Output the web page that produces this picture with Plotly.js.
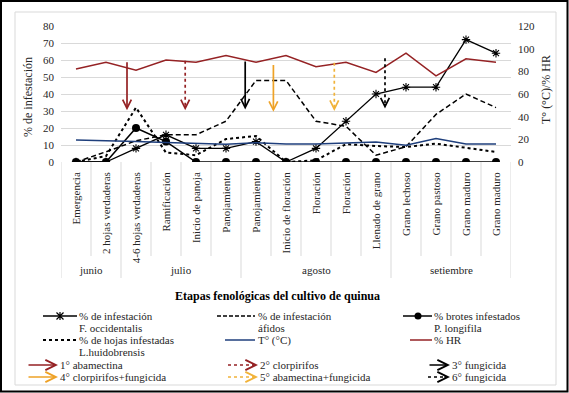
<!DOCTYPE html>
<html><head><meta charset="utf-8">
<script src="https://cdn.plot.ly/plotly-3.0.1.min.js"></script>
<style>html,body{margin:0;padding:0;background:#fff}#chart{width:569px;height:393px}</style>
</head><body><div id="chart"></div>
<script>
// ---------- data ----------
const etapas = ["Emergencia","2 hojas verdaderas","4-6 hojas verdaderas","Ramificación","Inicio de panoja","Panojamiento","Panojamiento","Inicio de floración","Floración","Floración","Llenado de grano","Grano lechoso","Grano pastoso","Grano maduro","Grano maduro"];
const meses = ["junio","julio","agosto","setiembre"];
const mesInicio = [0, 2, 6, 11];
const mesFin = [1, 5, 10, 14];

const fOccidentalis = [0, 0, 8, 16, 8, 8, 12, 0, 8, 24, 40, 44, 44, 72, 64];
const afidos = [0, 6, 12.5, 16, 16, 24, 48, 48, 24, 21, 4, 9, 28, 40, 32];
const brotesPLongifila = [0, 0, 20, 12, 0, 0, 0, 0, 0, 0, 0, 0, 0, 0, 0];
const hojasLHuidobrensis = [0, 3.5, 32, 5.5, 4, 13.5, 15.3, 0, 1, 10.5, 9.4, 8.8, 10.8, 8.3, 5.9];
const temperatura = [19.5, 19, 18, 17.2, 16.5, 15.6, 17, 15.8, 15.8, 16.5, 17.7, 14.8, 20.7, 15.8, 15.8];
const humedadRelativa = [82, 88, 81, 90, 88, 94, 88, 94, 84, 88, 79, 96, 76, 91, 88];

const aplicaciones = ["1° abamectina","2° clorpirifos","3° fungicida","4° clorpirifos+fungicida","5° abamectina+fungicida","6° fungicida"];
const aplicacionX = [1.7, 3.64, 5.64, 6.58, 8.61, 10.3];
const aplicacionDesde = [59.6, 59.6, 60, 58, 58.4, 61];
const aplicacionHasta = [30.5, 30.5, 30.9, 29.5, 30, 31.5];

// ---------- styles ----------
const FONT = "Liberation Serif, Times New Roman, serif";
const TXT = "#262626";
const RED = "#952224";
const ORANGE = "#eea227";
const ORANGE2 = "#f1b33a";
const BLUE = "#1f3f7c";
const aplColor = [RED, RED, "#000000", ORANGE, ORANGE2, "#000000"];
const aplDotted = [false, true, false, false, true, true];
const DASH = "5px,3px";

const L = 61, R = 511, T = 26, B = 162;
const px = x => (x - L) / (R - L);
const py = y => (B - y) / (B - T);
const idx = etapas.map((_, i) => i);

const traces = [
  {x: idx, y: fOccidentalis, name: "% de infestación F. occidentalis", type: "scatter", mode: "lines+markers",
   line: {color: "#000", width: 1.3}, marker: {symbol: "asterisk-open", size: 7, color: "#000", line: {width: 1.1, color: "#000"}}},
  {x: idx, y: afidos, name: "% de infestación áfidos", type: "scatter", mode: "lines",
   line: {color: "#000", width: 1.5, dash: DASH}},
  {x: idx, y: hojasLHuidobrensis, name: "% de hojas infestadas L.huidobrensis", type: "scatter", mode: "lines",
   line: {color: "#000", width: 2, dash: "dot"}},
  {x: idx, y: brotesPLongifila, name: "% brotes infestados P. longifila", type: "scatter", mode: "lines+markers",
   line: {color: "#000", width: 1.5}, marker: {symbol: "circle", size: 8, color: "#000"}},
  {x: idx, y: temperatura, name: "T° (°C)", type: "scatter", mode: "lines", yaxis: "y2",
   line: {color: BLUE, width: 1.5}},
  {x: idx, y: humedadRelativa, name: "% HR", type: "scatter", mode: "lines", yaxis: "y2",
   line: {color: RED, width: 1.5}}
];

const shapes = [];
const annotations = [];

// category boundary lines and month separators
const sepMes = new Set(mesInicio.map(v => v - 0.5).concat([mesFin[mesFin.length - 1] + 0.5]));
for (let i = 0; i <= etapas.length; i++) {
  const b = i - 0.5;
  const long = sepMes.has(b);
  shapes.push({type: "line", xref: "x", yref: "paper", x0: b, x1: b, y0: py(162), y1: py(long ? 278 : 256),
    line: {color: "#d9d9d9", width: 1}});
}
meses.forEach((m, k) => {
  annotations.push({x: (mesInicio[k] + mesFin[k]) / 2, xref: "x", y: py(270), yref: "paper", text: m,
    showarrow: false, font: {family: FONT, size: 11, color: TXT}, xanchor: "center", yanchor: "middle"});
});

// application arrows
aplicaciones.forEach((a, i) => {
  const c = aplColor[i];
  if (!aplDotted[i]) {
    annotations.push({x: aplicacionX[i], y: aplicacionHasta[i], ax: aplicacionX[i], ay: aplicacionDesde[i],
      xref: "x", yref: "y", axref: "x", ayref: "y", text: "", showarrow: true,
      arrowhead: 5, arrowsize: 1, arrowwidth: 1.7, arrowcolor: c});
  } else {
    shapes.push({type: "line", xref: "x", yref: "y", x0: aplicacionX[i], x1: aplicacionX[i],
      y0: aplicacionDesde[i], y1: aplicacionHasta[i] + 1.5, line: {color: c, width: 1.7, dash: "dot"}});
    annotations.push({x: aplicacionX[i], y: aplicacionHasta[i], ax: aplicacionX[i], ay: aplicacionHasta[i] + 3,
      xref: "x", yref: "y", axref: "x", ayref: "y", text: "", showarrow: true,
      arrowhead: 5, arrowsize: 1, arrowwidth: 1.7, arrowcolor: c});
  }
});

// axis titles
annotations.push({xref: "paper", yref: "paper", x: px(28), y: py(97), text: "% de infestación", textangle: -90,
  showarrow: false, font: {family: FONT, size: 12, color: TXT}, xanchor: "center", yanchor: "middle"});
annotations.push({xref: "paper", yref: "paper", x: px(546), y: py(90), text: "T° (°C)/% HR", textangle: -90,
  showarrow: false, font: {family: FONT, size: 12, color: TXT}, xanchor: "center", yanchor: "middle"});
annotations.push({xref: "paper", yref: "paper", x: px(277), y: py(296), text: "<b>Etapas fenológicas del cultivo de quinua</b>",
  showarrow: false, font: {family: FONT, size: 12, color: "#000"}, xanchor: "center", yanchor: "middle"});

// ---------- legend (drawn manually) ----------
function legText(x, y, t) {
  annotations.push({xref: "paper", yref: "paper", x: px(x), y: py(y), text: t, showarrow: false,
    font: {family: FONT, size: 11, color: TXT}, xanchor: "left", yanchor: "middle", borderpad: 0});
}
function legLine(x0, x1, y, color, width, dash) {
  shapes.push({type: "line", xref: "paper", yref: "paper", x0: px(x0), x1: px(x1), y0: py(y), y1: py(y),
    line: {color: color, width: width, dash: dash || "solid"}});
}
function legArrow(x0, x1, y, color, dotted) {
  if (dotted) {
    legLine(x0, x1 - 4, y, color, 1.7, "dot");
    annotations.push({xref: "paper", yref: "paper", x: px(x1), y: py(y), ax: -7, ay: 0, text: "", showarrow: true,
      arrowhead: 5, arrowsize: 1.2, arrowwidth: 1.7, arrowcolor: color});
  } else {
    annotations.push({xref: "paper", yref: "paper", x: px(x1), y: py(y), ax: -(x1 - x0), ay: 0, text: "", showarrow: true,
      arrowhead: 5, arrowsize: 1.2, arrowwidth: 1.7, arrowcolor: color});
  }
}
// row 1
legLine(43, 77, 316, "#000", 1.3);
const sx = 60, sy = 316, r = 3.5;
shapes.push({type: "path", xref: "paper", yref: "paper", line: {color: "#000", width: 1.2},
  path: `M${px(sx - r)},${py(sy - r)}L${px(sx + r)},${py(sy + r)}M${px(sx - r)},${py(sy + r)}L${px(sx + r)},${py(sy - r)}M${px(sx)},${py(sy - r - 0.5)}L${px(sx)},${py(sy + r + 0.5)}`});
legText(78, 316, "% de infestación"); legText(78, 328, "F. occidentalis");
legLine(217, 255, 316, "#000", 1.5, "4px,2px");
legText(257, 316, "% de infestación"); legText(257, 328, "áfidos");
legLine(403, 432, 316, "#000", 1.5);
shapes.push({type: "circle", xref: "paper", yref: "paper", x0: px(414.5), x1: px(421.5), y0: py(312.5), y1: py(319.5),
  fillcolor: "#000", line: {color: "#000", width: 0}});
legText(433, 316, "% brotes infestados"); legText(433, 328, "P. longifila");
// row 2
legLine(43, 77, 340, "#000", 2, "dot");
legText(78, 340, "% de hojas infestadas"); legText(78, 352, "L.huidobrensis");
legLine(225, 255, 340, BLUE, 1.5);
legText(257, 340, "T° (°C)");
legLine(410, 432, 340, RED, 1.5);
legText(433, 340, "% HR");
// rows 3-4 : applications (row 1: 1°,2°,3° ; row 2: 4°,5°,6°)
const legAX0 = [27, 228, 428], legAX1 = [58, 258, 450], legAT = [59, 259, 451], legAY = [365, 377];
aplicaciones.forEach((a, i) => {
  const col = i % 3;
  const row = Math.floor(i / 3);
  legArrow(legAX0[col], legAX1[col], legAY[row], aplColor[i], aplDotted[i]);
  legText(legAT[col], legAY[row], a);
});

// borders
shapes.push({type: "rect", xref: "paper", yref: "paper", x0: px(15), x1: px(556), y0: py(12), y1: py(385),
  line: {color: "#d9d9d9", width: 1}, layer: "below"});
shapes.push({type: "rect", xref: "paper", yref: "paper", x0: px(1), x1: px(567.5), y0: py(1), y1: py(391.5),
  line: {color: "#000", width: 2}, layer: "below"});

const layout = {
  width: 569, height: 393,
  margin: {l: L, r: 569 - R, t: T, b: 393 - B, pad: 0},
  paper_bgcolor: "#fff", plot_bgcolor: "#fff",
  showlegend: false,
  font: {family: FONT, size: 11, color: TXT},
  xaxis: {range: [-0.5, 14.5], tickvals: idx, ticktext: etapas, tickangle: -90, showgrid: false, zeroline: false,
    showline: false, ticks: "", tickfont: {family: FONT, size: 11, color: TXT}, ticklabelstandoff: 7, fixedrange: true},
  yaxis: {range: [0, 80], dtick: 10, tick0: 0, showgrid: true, gridcolor: "#d9d9d9", gridwidth: 1, zeroline: false,
    showline: false, ticks: "", tickfont: {family: FONT, size: 11, color: TXT}, ticklabelstandoff: 6},
  yaxis2: {range: [0, 120], dtick: 20, tick0: 0, overlaying: "y", side: "right", showgrid: false, zeroline: false,
    showline: false, ticks: "", tickfont: {family: FONT, size: 11, color: TXT}, ticklabelstandoff: 6},
  shapes: shapes,
  annotations: annotations
};

Plotly.newPlot("chart", traces, layout, {displayModeBar: false, staticPlot: true});
</script>
</body></html>
